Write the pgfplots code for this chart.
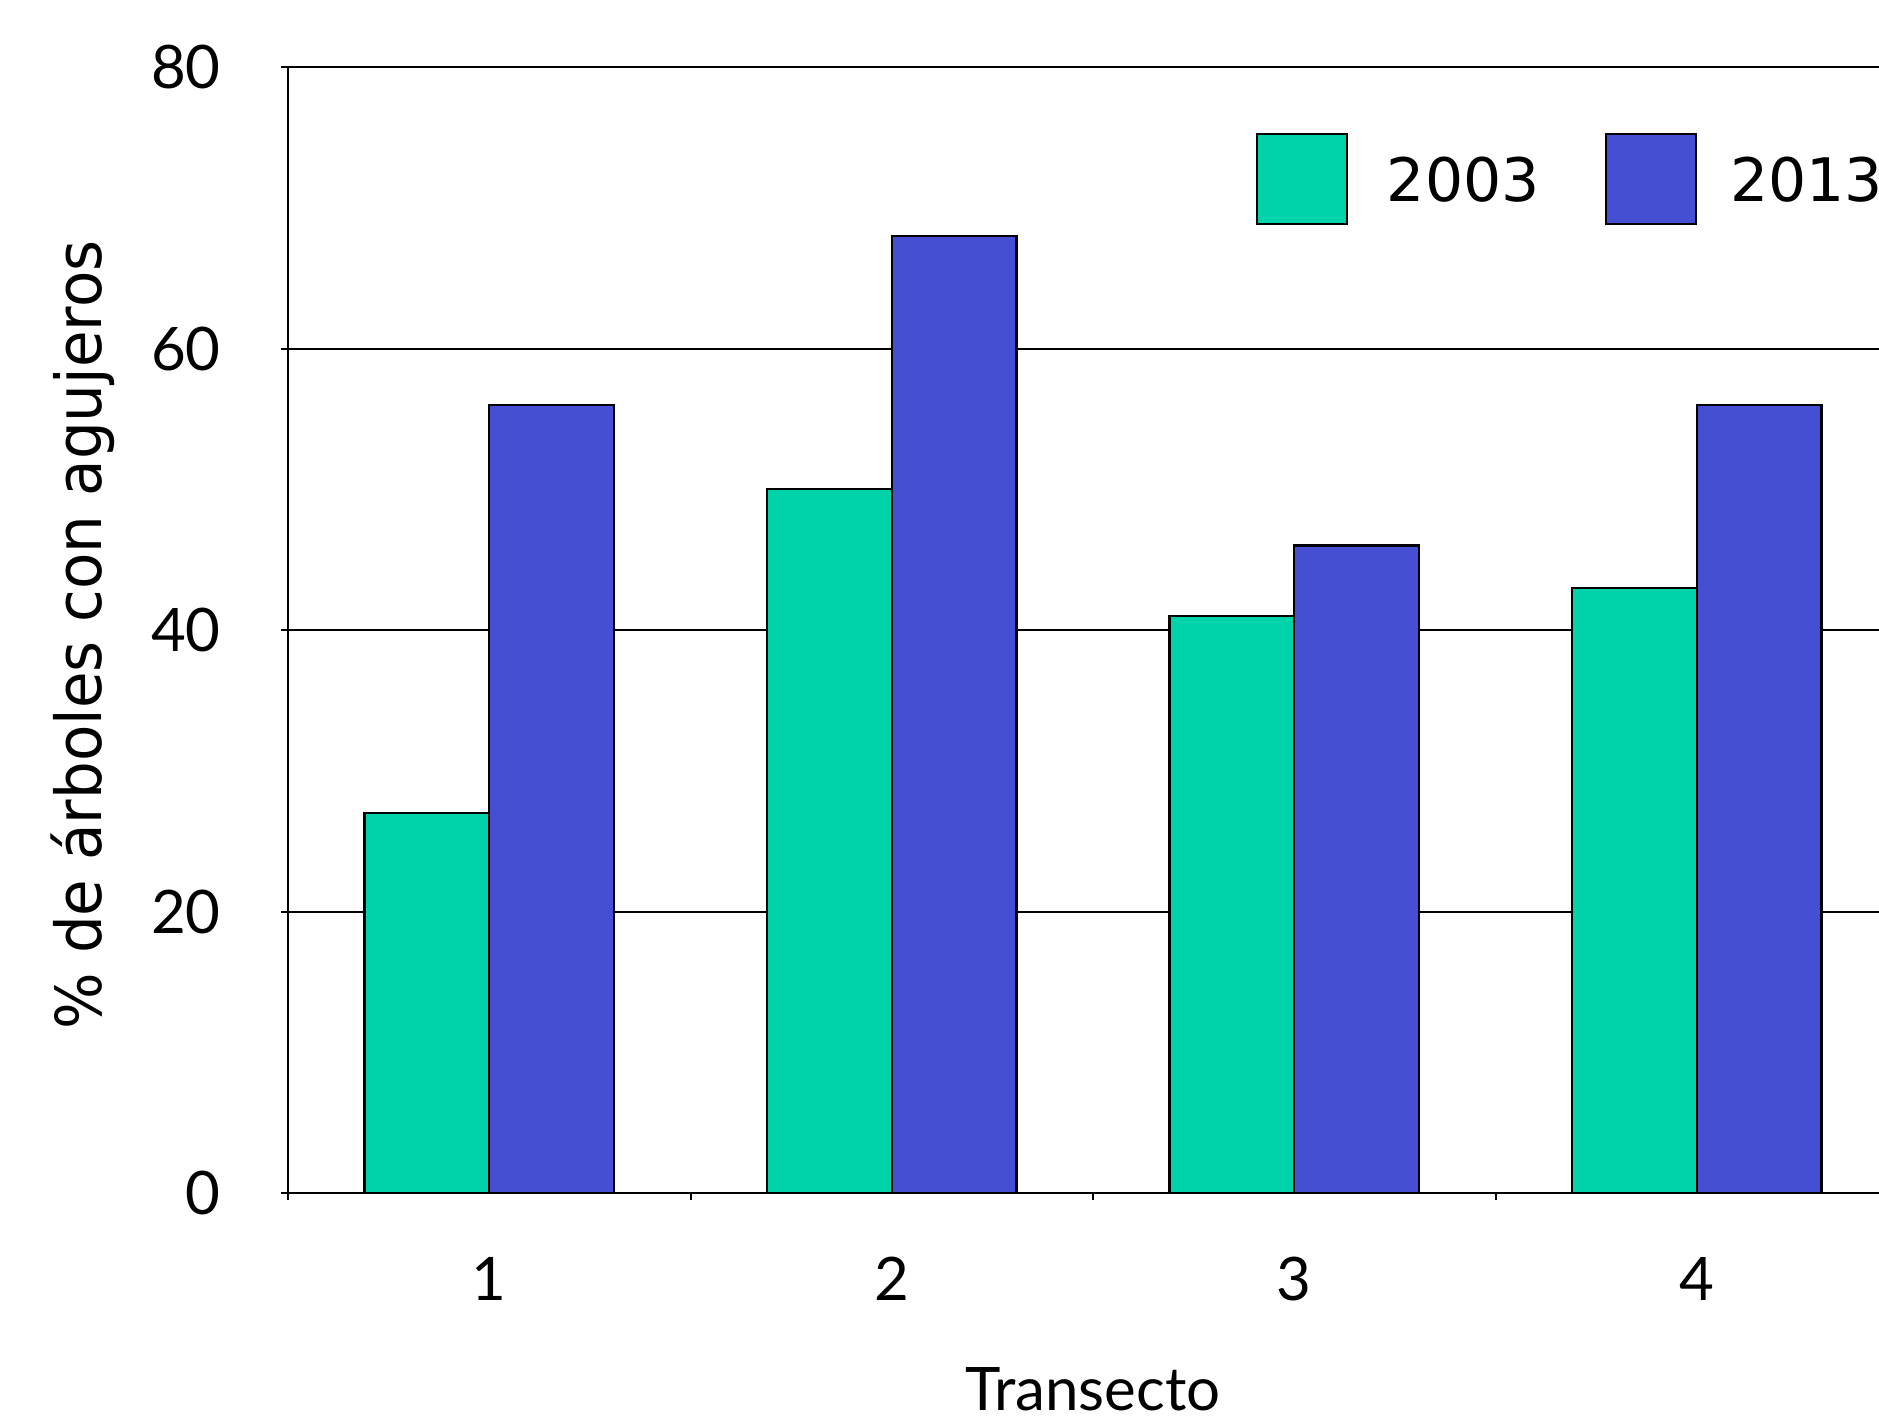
\documentclass[border=0pt]{standalone}
\usepackage{fontspec}
\setmainfont{Lato}
\newfontfamily\legfont{DejaVu Sans}
\usepackage{pgfplots}
\pgfplotsset{compat=1.18}
\definecolor{cgreen}{RGB}{0,211,170}
\definecolor{cblue}{RGB}{68,79,212}
\begin{document}
\begin{tikzpicture}[font=\fontsize{18}{22}\selectfont]
\useasboundingbox (-86.4pt,-68.1pt) rectangle (477.3pt,357.9pt);
\clip (-86.4pt,-68.1pt) rectangle (477.3pt,357.9pt);
\begin{axis}[
  at={(0pt,0pt)}, anchor=south west,
  scale only axis, width=483pt, height=337.8pt,
  xmin=0.5, xmax=4.5, ymin=0, ymax=80,
  ybar=0pt, bar width=37.4pt,
  xtick={1,2,3,4}, xticklabels={1,2,3,4},
  minor xtick={0.5,1.5,2.5,3.5,4.5},
  major x tick style={draw=none},
  ytick={0,20,40,60,80},
  tick pos=left,
  tick align=outside,
  major tick length=2pt, minor tick length=2pt,
  tick style={black, line width=0.6pt},
  ymajorgrids, grid style={black, line width=0.6pt},
  axis line style={black, line width=0.7pt},
  /pgf/number format/assume math mode=true,
  yticklabel style={anchor=east, inner sep=0pt, xshift=-18pt},
  xticklabel style={anchor=north, inner sep=0pt, yshift=-17pt},
  every axis y label/.style={at={(axis description cs:-0.1157,0.4956)}, rotate=90, anchor=base, font=\legfont\fontsize{19}{23}\selectfont},
  every axis x label/.style={at={(axis description cs:0.5,-0.1747)}, anchor=center},
  ylabel={\scalebox{0.94}[1]{\% de árboles con agujeros}},
  xlabel={Transecto},
  legend columns=2,
  legend style={draw=none, fill=none, inner sep=0pt, nodes={inner sep=0pt},
    at={(axis description cs:0.6006,0.9008)}, anchor=west, font=\legfont\fontsize{18}{22}\selectfont},
]
\addplot[fill=cgreen, draw=black, line width=0.7pt,
  legend image code/.code={\draw[fill=cgreen, draw=black, line width=0.7pt] (0pt,-12.7pt) rectangle (27pt,14.3pt);}]
  coordinates {(1,27) (2,50) (3,41) (4,43)};
\addlegendentry{\hspace{11.7pt}2003\hspace{19.5pt}\null}
\addplot[fill=cblue, draw=black, line width=0.7pt,
  legend image code/.code={\draw[fill=cblue, draw=black, line width=0.7pt] (0pt,-12.7pt) rectangle (27pt,14.3pt);}]
  coordinates {(1,56) (2,68) (3,46) (4,56)};
\addlegendentry{\hspace{10pt}2013}
\end{axis}
\end{tikzpicture}
\end{document}
